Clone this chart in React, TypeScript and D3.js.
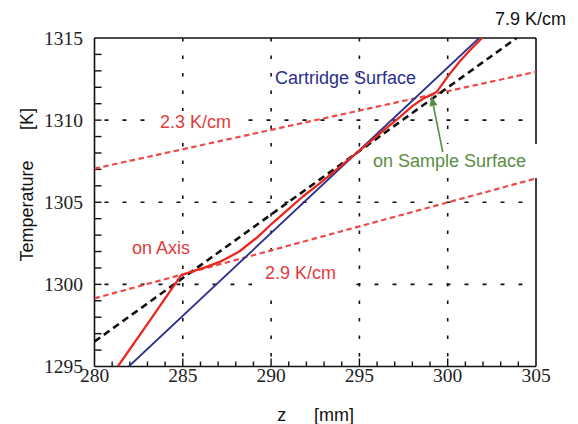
import React from "react";
import * as d3 from "d3";

// ---- data ----
const xTicks = [280, 285, 290, 295, 300, 305];
const yTicks = [1295, 1300, 1305, 1310, 1315];
const xMinor = d3.range(281, 305, 1);
const yMinor = d3.range(1296, 1315, 1);
const gridX = [285, 290, 295, 300];
const gridY = [1300, 1305, 1310];

// Cartridge surface temperature (solid blue)
const cartridgeZ = [281.94, 301.78];
const cartridgeT = [1295, 1315];

// On axis temperature (solid red)
const axisZ = [281.32, 283.2, 284.9, 285.4, 286.3, 287.2, 288.2, 289.2, 290.1, 291.0, 291.8, 292.7, 293.5, 294.5, 295.4, 296.4, 297.3, 298.0, 298.6, 299.1, 299.4, 300.0, 300.7, 301.3, 301.95];
const axisT = [1295, 1297.9, 1300.55, 1300.74, 1301.05, 1301.42, 1302.0, 1302.85, 1303.75, 1304.6, 1305.35, 1306.1, 1306.8, 1307.7, 1308.5, 1309.4, 1310.2, 1310.85, 1311.3, 1311.55, 1311.75, 1312.65, 1313.6, 1314.3, 1315];

// Gradient fits
const fit79Z = [280, 303.9];
const fit79T = [1296.52, 1315];
const fit23Z = [280, 305];
const fit23T = [1307.05, 1312.94];
const fit29Z = [280, 305];
const fit29T = [1299.15, 1306.45];

// Arrow to sample surface
const arrowZ = [299.72, 299.08];
const arrowT = [1308.06, 1311.47];

const W = 578, H = 424;
const L = 94.5, R = 536, T = 38, B = 366.5;

const x = d3.scaleLinear().domain([280, 305]).range([L, R]);
const y = d3.scaleLinear().domain([1295, 1315]).range([B, T]);

const zip = (a: number[], b: number[]) => a.map((v, i) => [v, b[i]] as [number, number]);
const line = d3.line<[number, number]>().x(d => x(d[0])).y(d => y(d[1]));

const SANS = "'Liberation Sans', Arial, Helvetica, sans-serif";
const SERIF = "'Liberation Serif', 'Times New Roman', serif";

const RED = "#e8281e";
const RED_LBL = "#e23b3b";
const RED_DASH = "#ec4a48";
const BLUE = "#2b2f8c";
const GREEN = "#5a8d44";

export default function App() {
  const ax0 = x(arrowZ[0]), ay0 = y(arrowT[0]);
  const ax1 = x(arrowZ[1]), ay1 = y(arrowT[1]);
  const ang = Math.atan2(ay1 - ay0, ax1 - ax0);
  const hl = 10, hw = 4;
  const bx = ax1 - hl * Math.cos(ang), by = ay1 - hl * Math.sin(ang);
  const head = [
    [ax1, ay1],
    [bx + hw * Math.sin(ang), by - hw * Math.cos(ang)],
    [bx - hw * Math.sin(ang), by + hw * Math.cos(ang)],
  ].map(p => p.join(",")).join(" ");

  return (
    <svg width={W} height={H} style={{ position: "absolute", left: 0, top: 0, background: "#fff" }}>
      <defs>
        <clipPath id="plot">
          <rect x={L} y={T} width={R - L} height={B - T} />
        </clipPath>
      </defs>

      {/* gridlines */}
      {gridX.map(v => (
        <line key={"gx" + v} x1={x(v)} x2={x(v)} y1={T} y2={B} stroke="#111" strokeWidth={1.6} strokeDasharray="3.5,14" />
      ))}
      {gridY.map(v => (
        <line key={"gy" + v} x1={L} x2={R - 4} y1={y(v)} y2={y(v)} stroke="#111" strokeWidth={1.6} strokeDasharray="4,14" strokeDashoffset={-10} />
      ))}

      {/* ticks */}
      {xMinor.filter(v => v % 5 !== 0).map(v => (
        <line key={"xm" + v} x1={x(v)} x2={x(v)} y1={B} y2={B - 5} stroke="#111" strokeWidth={1.4} />
      ))}
      {gridX.map(v => (
        <line key={"xM" + v} x1={x(v)} x2={x(v)} y1={B} y2={B - 8} stroke="#111" strokeWidth={1.4} />
      ))}
      {yMinor.filter(v => v % 5 !== 0).map(v => (
        <line key={"ym" + v} x1={L} x2={L + 7} y1={y(v)} y2={y(v)} stroke="#111" strokeWidth={1.4} />
      ))}
      {gridY.map(v => (
        <line key={"yM" + v} x1={L} x2={L + 7} y1={y(v)} y2={y(v)} stroke="#111" strokeWidth={1.4} />
      ))}

      {/* frame */}
      <line x1={L} x2={L} y1={T} y2={B} stroke="#111" strokeWidth={1.6} />
      <line x1={L} x2={R} y1={B} y2={B} stroke="#111" strokeWidth={1.6} />
      <line x1={L} x2={R} y1={T} y2={T} stroke="#111" strokeWidth={1.6} />
      <line x1={R} x2={R} y1={T} y2={B} stroke="#111" strokeWidth={1.6} />

      {/* label backgrounds */}
      <rect x={150} y={111} width={92} height={20} fill="#fff" />
      <rect x={252} y={261} width={98} height={29} fill="#fff" />
      <rect x={366} y={144} width={180} height={34} fill="#fff" />
      <rect x={128} y={237} width={66} height={21} fill="#fff" />

      {/* data lines */}
      <g clipPath="url(#plot)">
        <path d={line(zip(fit23Z, fit23T)) || ""} fill="none" stroke={RED_DASH} strokeWidth={2.2} strokeDasharray="5.5,3.5" />
        <path d={line(zip(fit29Z, fit29T)) || ""} fill="none" stroke={RED_DASH} strokeWidth={2.2} strokeDasharray="5.5,3.5" />
        <path d={line(zip(cartridgeZ, cartridgeT)) || ""} fill="none" stroke={BLUE} strokeWidth={1.8} />
        <path d={line(zip(fit79Z, fit79T)) || ""} fill="none" stroke="#111" strokeWidth={2.6} strokeDasharray="7,4.5" />
        <path d={line(zip(axisZ, axisT)) || ""} fill="none" stroke={RED} strokeWidth={2.3} strokeLinejoin="round" />
      </g>

      {/* arrow */}
      <line x1={ax0} y1={ay0} x2={bx} y2={by} stroke={GREEN} strokeWidth={1.6} />
      <polygon points={head} fill={GREEN} />

      {/* annotations */}
      <g fontFamily={SANS} fontSize={18}>
        <text x={275} y={83.5} fill={BLUE}>Cartridge Surface</text>
        <text x={160} y={127.5} fill={RED_LBL}>2.3 K/cm</text>
        <text x={373} y={167} fill={GREEN}>on Sample Surface</text>
        <text x={132} y={253.5} fill={RED_LBL}>on Axis</text>
        <text x={265} y={278.5} fill={RED_LBL}>2.9 K/cm</text>
        <text x={495} y={25} fill="#111">7.9 K/cm</text>
      </g>

      {/* tick labels */}
      <g fontFamily={SERIF} fontSize={19.5} fill="#222">
        {xTicks.map(v => (
          <text key={"xl" + v} x={x(v)} y={381.5} textAnchor="middle">{v}</text>
        ))}
        {yTicks.map(v => (
          <text key={"yl" + v} x={83} y={y(v) + 6.5} textAnchor="end">{v}</text>
        ))}
      </g>

      {/* axis titles */}
      <g fontFamily={SANS} fontSize={18} fill="#111">
        <text transform="translate(33,211) rotate(-90)" textAnchor="middle">Temperature</text>
        <text transform="translate(33,119) rotate(-90)" textAnchor="middle">[K]</text>
        <text x={281.7} y={420.5} textAnchor="middle">z</text>
        <text x={334} y={420.5} textAnchor="middle">[mm]</text>
      </g>
    </svg>
  );
}
